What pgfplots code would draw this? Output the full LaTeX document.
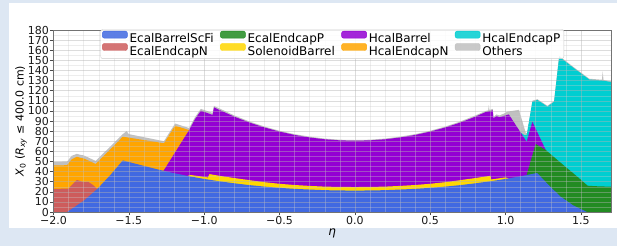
\documentclass[border=0pt]{standalone}
\usepackage{pgfplots}
\pgfplotsset{compat=1.18}
\usepackage{fontspec}
\setmainfont{DejaVu Sans}
\definecolor{royalblue}{RGB}{65,105,225}
\definecolor{indianred}{RGB}{205,92,92}
\definecolor{forestgreen}{RGB}{34,139,34}
\definecolor{goldc}{RGB}{255,215,0}
\definecolor{darkviolet}{RGB}{148,0,211}
\definecolor{orangec}{RGB}{255,165,0}
\definecolor{darkturq}{RGB}{0,206,209}
\definecolor{silverc}{RGB}{192,192,192}
\definecolor{framebg}{RGB}{221,231,243}
\pgfplotsset{myleg/.style={legend image code/.code={\fill[#1] (0pt,1pt) rectangle (25pt,8pt);}}}
\begin{document}
\begin{tikzpicture}
\useasboundingbox (0,0) rectangle (617pt,246pt);
\fill[framebg] (0,0) rectangle (617pt,246pt);
\fill[white] (9pt,18pt) rectangle (617pt,243pt);
\begin{axis}[
  at={(53.5pt,34pt)}, anchor=south west,
  scale only axis, width=557.5pt, height=182pt,
  xmin=-2, xmax=1.7, ymin=0, ymax=180,
  xtick={-2,-1.5,-1,-0.5,0,0.5,1,1.5},
  xticklabels={−2.0,−1.5,−1.0,−0.5,0.0,0.5,1.0,1.5},
  ytick={0,10,...,180},
  minor x tick num=4, minor y tick num=1,
  grid=both,
  major grid style={white!70!black, line width=0.5pt, opacity=0.45},
  minor grid style={white!80!black, line width=0.4pt, opacity=0.35},
  axis on top,
  tick align=outside, xtick pos=bottom, ytick pos=left,
  major tick length=3pt, minor tick length=0pt,
  axis line style={black!55},
  every tick/.style={black!70},
  /pgf/number format/assume math mode=true,
  ticklabel style={font=\fontsize{11}{11}\selectfont, text=black!90},
  xticklabel style={inner sep=1pt},
  yticklabel style={inner sep=1.5pt},
  xlabel={\textit{η}},
  xlabel style={at={(axis description cs:0.5,0)}, anchor=north, inner sep=0pt, yshift=-17pt, font=\fontsize{12}{12}\selectfont},
  ylabel={\textit{X}\textsubscript{0} (\textit{R}\textsubscript{\textit{xy}} ≤ 400.0 cm)},
  ylabel style={at={(axis description cs:-0.0475,0.5)}, anchor=south, inner sep=0pt, font=\fontsize{11}{11}\selectfont},
  legend columns=4,
  legend cell align=left,
  legend style={at={(0.5,1.004)}, anchor=north, draw=black!20, fill=white, fill opacity=0.85, text opacity=1,
    rounded corners=2pt, inner sep=1.5pt, font=\fontsize{12}{13}\selectfont,
    nodes={inner xsep=2pt, inner ysep=0.3pt}, row sep=-1.5pt,
    /tikz/every even column/.append style={column sep=4.5pt}},
]
\addlegendimage{myleg=royalblue}\addlegendentry{EcalBarrelScFi}
\addlegendimage{myleg=forestgreen}\addlegendentry{EcalEndcapP}
\addlegendimage{myleg=darkviolet}\addlegendentry{HcalBarrel}
\addlegendimage{myleg=darkturq}\addlegendentry{HcalEndcapP}
\addlegendimage{myleg=indianred}\addlegendentry{EcalEndcapN}
\addlegendimage{myleg=goldc}\addlegendentry{SolenoidBarrel}
\addlegendimage{myleg=orangec}\addlegendentry{HcalEndcapN}
\addlegendimage{myleg=silverc}\addlegendentry{Others}

% Others (cumulative total)
\addplot[fill=silverc, draw=none, forget plot] coordinates {
(-2.0,49.5) (-1.91,49.8) (-1.88,55.5) (-1.845,57.5) (-1.82,56.5) (-1.80,56) (-1.77,54) (-1.72,50.5)
(-1.54,77) (-1.515,80) (-1.50,77) (-1.267,70) (-1.193,87.5) (-1.10,83) (-1.06,94) (-1.022,102)
(-0.944,98) (-0.935,105) (-0.9,102.5) (-0.8,95.5) (-0.7,89.5) (-0.6,84.5) (-0.5,80.3) (-0.4,77)
(-0.3,74.5) (-0.2,72.6) (-0.1,71.5) (0,71.2) (0.1,71.5) (0.2,72.6) (0.3,74.5) (0.4,77) (0.5,80.3)
(0.6,84.5) (0.7,89.5) (0.8,95.5) (0.87,100) (0.885,100.5) (0.889,105.6) (0.893,100.8) (0.915,102)
(0.92,94) (0.94,96.5) (0.96,95.5) (1.0,98) (1.011,99.2) (1.089,101) (1.135,78) (1.145,78)
(1.178,110) (1.211,111.6) (1.278,105) (1.322,109.8) (1.356,154.5) (1.456,142.8) (1.556,131.8)
(1.640,130.8) (1.645,139) (1.65,130.6) (1.70,129.4)
} \closedcycle;
% HcalEndcapP (cumulative)
\addplot[fill=darkturq, draw=none, forget plot] coordinates {
(1.10,78.7) (1.125,76) (1.14,76) (1.178,109) (1.211,110.8) (1.278,104.2) (1.322,109) (1.356,153.6)
(1.456,142) (1.556,131) (1.644,130) (1.70,128.6)
} \closedcycle;
% HcalEndcapN (cumulative)
\addplot[fill=orangec, draw=none, forget plot] coordinates {
(-2.0,46) (-1.91,46.3) (-1.88,52) (-1.845,54.7) (-1.82,53.5) (-1.80,53) (-1.77,51) (-1.72,47.5)
(-1.54,74.5) (-1.267,68) (-1.193,85.4) (-1.10,81)
} \closedcycle;
% HcalBarrel (cumulative)
\addplot[fill=darkviolet, draw=none, forget plot] coordinates {
(-1.27,40.7) (-1.10,81) (-1.06,92) (-1.022,100.2) (-0.944,96) (-0.935,103.5) (-0.9,101) (-0.8,94.3)
(-0.7,88.5) (-0.6,83.6) (-0.5,79.5) (-0.4,76.2) (-0.3,73.7) (-0.2,71.9) (-0.1,70.85) (0,70.5)
(0.1,70.85) (0.2,71.9) (0.3,73.7) (0.4,76.2) (0.5,79.5) (0.6,83.6) (0.7,88.5) (0.8,94.3) (0.87,99)
(0.915,100.5) (0.92,92.6) (0.94,95) (0.96,93.8) (1.022,96.5) (1.14,69.5) (1.178,89.3) (1.267,61.3)
} \closedcycle;
% SolenoidBarrel (cumulative)
\addplot[fill=goldc, draw=none, forget plot] coordinates {
(-1.11,35.7) (-1.09,36.6) (-0.975,34.2) (-0.965,37.5) (-0.9,35.8) (-0.8,33.6) (-0.7,31.5) (-0.6,29.5)
(-0.5,27.9) (-0.4,26.7) (-0.3,25.8) (-0.2,25.1) (-0.1,24.8) (0,24.7) (0.1,24.8) (0.2,25.1) (0.3,25.8)
(0.4,26.7) (0.5,27.9) (0.6,29.5) (0.7,31.5) (0.8,33.6) (0.9,35.8) (0.905,32.2) (1.0,34.2) (1.02,33.2)
} \closedcycle;
% EcalEndcapP (cumulative)
\addplot[fill=forestgreen, draw=none, forget plot] coordinates {
(1.14,36.5) (1.17,52) (1.20,67.3) (1.267,61.3) (1.34,52) (1.41,43.2) (1.48,34.5) (1.545,26) (1.6,25.5) (1.7,25)
} \closedcycle;
% EcalEndcapN (cumulative)
\addplot[fill=indianred, draw=none, forget plot] coordinates {
(-2.0,22.7) (-1.95,23) (-1.90,23.2) (-1.87,28) (-1.845,31.6) (-1.83,31) (-1.80,29.5) (-1.77,29.8) (-1.74,27) (-1.71,22.7)
} \closedcycle;
% EcalBarrelScFi
\addplot[fill=royalblue, draw=none, forget plot] coordinates {
(-1.91,0) (-1.80,11) (-1.71,22.7) (-1.62,37) (-1.54,51) (-1.4,45.6) (-1.3,41.8) (-1.2,38.4) (-1.1,35.4)
(-1.0,32.7) (-0.9,30.4) (-0.8,28.4) (-0.7,26.6) (-0.6,25.1) (-0.5,23.9) (-0.4,22.9) (-0.3,22.2)
(-0.2,21.6) (-0.1,21.3) (0,21.2) (0.1,21.3) (0.2,21.6) (0.3,22.2) (0.4,22.9) (0.5,23.9) (0.6,25.1)
(0.7,26.6) (0.8,28.4) (0.9,30.4) (1.0,32.7) (1.1,35.4) (1.21,38.6) (1.29,26) (1.367,15) (1.45,6.5) (1.54,0)
} \closedcycle;
\end{axis}
\end{tikzpicture}
\end{document}
